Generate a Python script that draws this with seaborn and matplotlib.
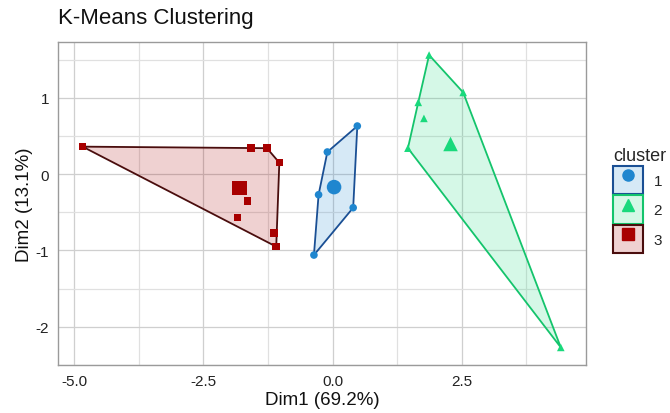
import numpy as np
import pandas as pd
import matplotlib
matplotlib.use("Agg")
import matplotlib.pyplot as plt
import seaborn as sns
from matplotlib.patches import Patch
from matplotlib.lines import Line2D

# projected points (Dim1, Dim2) per cluster
dim1_c1 = [0.48, -0.10, -0.27, 0.40, -0.36]
dim2_c1 = [0.63, 0.29, -0.27, -0.44, -1.06]
dim1_c2 = [1.87, 2.53, 1.66, 1.77, 1.46, 4.42]
dim2_c2 = [1.56, 1.07, 0.94, 0.73, 0.34, -2.27]
dim1_c3 = [-4.84, -1.58, -1.27, -1.03, -1.65, -1.84, -1.13, -1.09]
dim2_c3 = [0.36, 0.34, 0.34, 0.15, -0.35, -0.57, -0.77, -0.95]

clusters = ["1", "2", "3"]
point_colors = {"1": "#1f86cf", "2": "#19d97c", "3": "#a80000"}
edge_colors = {"1": "#1a4f94", "2": "#14c46c", "3": "#4a0d0d"}
markers = {"1": "o", "2": "^", "3": "s"}


def convex_hull(pts):
    pts = sorted(set(pts))
    def cross(o, a, b):
        return (a[0] - o[0]) * (b[1] - o[1]) - (a[1] - o[1]) * (b[0] - o[0])
    lower, upper = [], []
    for p in pts:
        while len(lower) >= 2 and cross(lower[-2], lower[-1], p) <= 0:
            lower.pop()
        lower.append(p)
    for p in reversed(pts):
        while len(upper) >= 2 and cross(upper[-2], upper[-1], p) <= 0:
            upper.pop()
        upper.append(p)
    return lower[:-1] + upper[:-1]


df = pd.concat([
    pd.DataFrame({"Dim1": dim1_c1, "Dim2": dim2_c1, "cluster": "1"}),
    pd.DataFrame({"Dim1": dim1_c2, "Dim2": dim2_c2, "cluster": "2"}),
    pd.DataFrame({"Dim1": dim1_c3, "Dim2": dim2_c3, "cluster": "3"}),
], ignore_index=True)
centers = df.groupby("cluster")[["Dim1", "Dim2"]].mean().reset_index()

sns.set_style("whitegrid")
plt.rcParams["font.family"] = ["Liberation Sans", "DejaVu Sans"]
plt.rcParams["axes.unicode_minus"] = False

fig = plt.figure(figsize=(6.7, 4.14), dpi=100)
ax = fig.add_axes([0.087, 0.116, 0.787, 0.78])

for c in clusters:
    sub = df[df["cluster"] == c]
    hull = np.array(convex_hull(list(zip(sub["Dim1"], sub["Dim2"]))))
    ax.fill(hull[:, 0], hull[:, 1], facecolor=point_colors[c], alpha=0.18,
            edgecolor="none", zorder=2)
    ax.fill(hull[:, 0], hull[:, 1], facecolor="none", edgecolor=edge_colors[c],
            lw=1.3, zorder=3)

sns.scatterplot(data=df, x="Dim1", y="Dim2", hue="cluster", style="cluster",
                palette=point_colors, markers=markers, s=30, linewidth=0,
                legend=False, ax=ax, zorder=4)
sns.scatterplot(data=centers, x="Dim1", y="Dim2", hue="cluster", style="cluster",
                palette=point_colors, markers=markers, s=110, linewidth=0,
                legend=False, ax=ax, zorder=5)

ax.set_xlim(-5.31, 4.9)
ax.set_ylim(-2.47, 1.73)
ax.set_xticks([-5.0, -2.5, 0.0, 2.5])
ax.set_xticklabels(["-5.0", "-2.5", "0.0", "2.5"])
ax.set_yticks([-2, -1, 0, 1])
ax.set_xticks(np.arange(-5.0, 5.0, 1.25), minor=True)
ax.set_yticks(np.arange(-2.5, 2.0, 0.5), minor=True)
ax.grid(which="major", color="#cfcfcf", lw=0.9)
ax.grid(which="minor", color="#e0e0e0", lw=0.9)
ax.tick_params(which="both", length=0)
ax.tick_params(which="major", axis="both", length=3, color="#333333",
               labelsize=11, labelcolor="#222222")
for s in ax.spines.values():
    s.set_color("#9a9a9a")
    s.set_linewidth(1.0)
ax.set_xlabel("Dim1 (69.2%)", fontsize=13.5, color="#111111", labelpad=2)
ax.set_ylabel("Dim2 (13.1%)", fontsize=13.5, color="#111111", labelpad=2)
fig.text(0.087, 0.93, "K-Means Clustering", fontsize=16, ha="left",
         va="bottom", color="#111111")

handles = []
for c in clusters:
    box = Patch(facecolor=point_colors[c], alpha=0.18, edgecolor="none")
    frame = Patch(facecolor="none", edgecolor=edge_colors[c], lw=1.5)
    mk = Line2D([], [], marker=markers[c], color=point_colors[c], ls="none",
                markersize=8)
    handles.append((box, frame, mk))
leg = fig.legend(handles, clusters, title="cluster", loc="center left",
                 bbox_to_anchor=(0.899, 0.514), frameon=False, fontsize=11,
                 title_fontsize=13, handlelength=1.95, handleheight=2.45,
                 labelspacing=0.1, handletextpad=0.7, borderpad=0.2)
leg._legend_box.align = "left"

fig.savefig("out.png", dpi=100)
